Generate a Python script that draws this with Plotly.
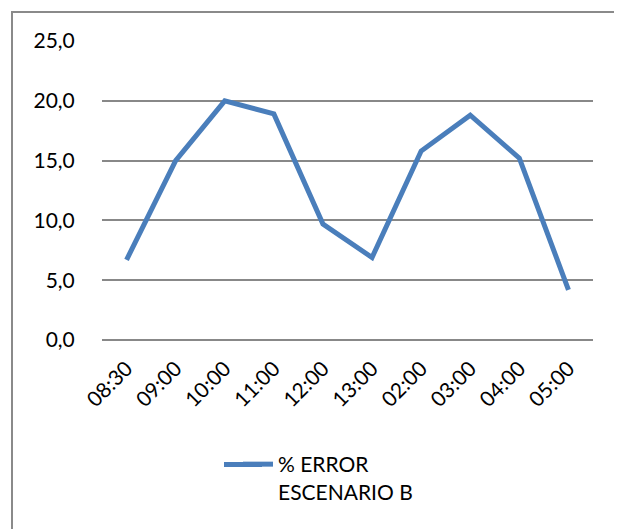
import plotly.graph_objects as go

categories = ["08:30", "09:00", "10:00", "11:00", "12:00", "13:00", "02:00", "03:00", "04:00", "05:00"]
error_b = [6.7, 15.0, 20.0, 18.9, 9.7, 6.9, 15.8, 18.8, 15.2, 4.2]
series_name = "% ERROR<br>ESCENARIO B"
y_ticks = [0, 5, 10, 15, 20, 25]

# page body has an 8px margin; figure is sized to fill the rest of the window
OFF = 8
W, H = 622 - OFF, 529 - OFF
L, R, T, B = 102 - OFF, 29, 41 - OFF, 189
pw, ph = W - L - R, H - T - B

def px_x(p):
    return (p - OFF - L) / pw

def px_y(p):
    return (H - B - (p - OFF)) / ph

FAM = "Lato, Open Sans, sans-serif"
BLUE = "#4A7EBB"

fig = go.Figure()
fig.add_trace(go.Scatter(
    x=categories, y=error_b, mode="lines", name=series_name,
    line=dict(color=BLUE, width=5),
))

fig.update_layout(
    width=W, height=H,
    margin=dict(l=L, r=R, t=T, b=B, pad=0),
    paper_bgcolor="white", plot_bgcolor="white",
    separators=",.",
    font=dict(family=FAM, size=20, color="#000000"),
    showlegend=True,
    legend=dict(
        x=px_x(238), y=px_y(444), xanchor="left", yanchor="top",
        font=dict(family=FAM, size=21, color="#000000"),
        valign="top", bgcolor="rgba(0,0,0,0)", tracegroupgap=0,
    ),
    xaxis=dict(
        type="category", tickangle=-45, showgrid=False, showline=False,
        zeroline=False, ticks="outside", ticklen=7, tickcolor="rgba(0,0,0,0)",
        tickfont=dict(family=FAM, size=21),
        range=[-0.5, len(categories) - 0.5], fixedrange=True,
    ),
    yaxis=dict(
        range=[0, 25], tickvals=y_ticks, tickformat=".1f",
        showgrid=True, gridcolor="#888888", gridwidth=1.6,
        zeroline=True, zerolinecolor="#888888", zerolinewidth=1.6,
        showline=False, ticks="outside", ticklen=22, tickcolor="rgba(0,0,0,0)",
        tickfont=dict(family=FAM, size=21),
        fixedrange=True,
    ),
)

# chart-area frame
fig.add_shape(
    type="rect", xref="paper", yref="paper",
    x0=px_x(12), x1=px_x(621), y0=px_y(545), y1=px_y(12),
    line=dict(color="#8A8A8A", width=2), fillcolor="rgba(0,0,0,0)", layer="below",
)
# extend the legend key line to the reference's longer length
fig.add_shape(
    type="line", xref="paper", yref="paper",
    x0=px_x(224), x1=px_x(262), y0=px_y(464.5), y1=px_y(464.5),
    line=dict(color=BLUE, width=5),
)

fig.write_html("out.html")
